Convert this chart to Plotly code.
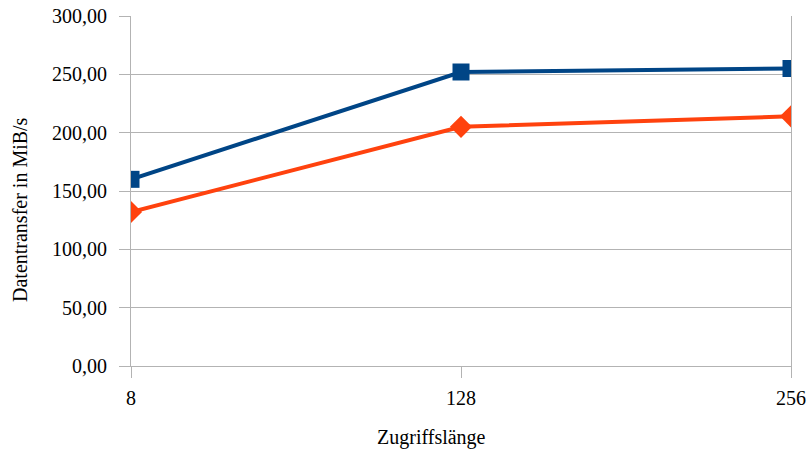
import plotly.graph_objects as go

# Zugriffslängen (Kategorien) und gemessene Datentransferraten in MiB/s
zugriffslaenge = ["8", "128", "256"]
reihe_1 = [160, 252, 255]
reihe_2 = [132, 205, 214]

y_ticks = [0, 50, 100, 150, 200, 250, 300]

GRID = "#b3b3b3"
SERIF = "Liberation Serif"

fig = go.Figure()
fig.add_trace(go.Scatter(
    x=zugriffslaenge, y=reihe_1, name="Reihe 1",
    mode="lines+markers",
    line=dict(color="#004586", width=4),
    marker=dict(symbol="square", size=17, color="#004586"),
))
fig.add_trace(go.Scatter(
    x=zugriffslaenge, y=reihe_2, name="Reihe 2",
    mode="lines+markers",
    line=dict(color="#ff420e", width=4),
    marker=dict(symbol="diamond", size=17, color="#ff420e"),
))

fig.update_layout(
    width=810, height=452,
    margin=dict(l=131, r=19, t=16, b=86, autoexpand=False),
    paper_bgcolor="white", plot_bgcolor="white",
    separators=",.",
    showlegend=False,
    font=dict(family=SERIF, size=20, color="#000000"),
    xaxis=dict(
        type="category", range=[0, 2], automargin=False,
        showgrid=False, zeroline=False,
        showline=True, linecolor=GRID, linewidth=1,
        ticks="outside", ticklen=11, tickcolor=GRID, tickwidth=1,
        tickfont=dict(family=SERIF, size=20),
        ticklabelstandoff=3,
    ),
    yaxis=dict(
        range=[0, 300], tickvals=y_ticks, tickformat=".2f", automargin=False,
        showgrid=True, gridcolor=GRID, gridwidth=1,
        zeroline=False,
        showline=True, linecolor=GRID, linewidth=1, mirror=True,
        ticks="outside", ticklen=11, tickcolor=GRID, tickwidth=1,
        tickfont=dict(family=SERIF, size=20),
        ticklabelstandoff=8,
    ),
    annotations=[
        dict(text="Zugriffslänge", xref="paper", yref="paper",
             x=(431 - 131) / 660, y=-(437 - 366) / 350,
             xanchor="center", yanchor="middle", showarrow=False,
             font=dict(family=SERIF, size=20)),
        dict(text="Datentransfer in MiB/s", xref="paper", yref="paper",
             x=-(131 - 20) / 660, y=(366 - 210) / 350,
             xanchor="center", yanchor="middle", showarrow=False,
             textangle=-90, font=dict(family=SERIF, size=20)),
    ],
)

fig.write_html("out.html")
